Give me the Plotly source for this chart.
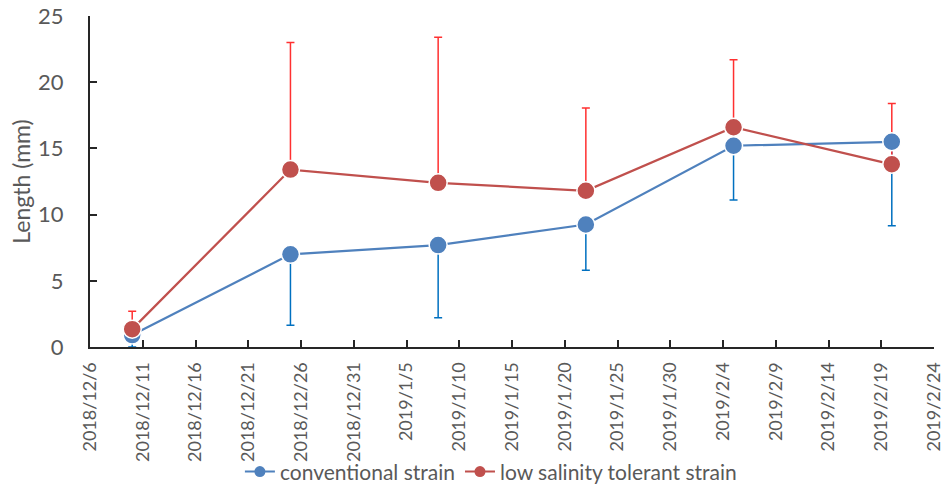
import plotly.graph_objects as go

dates = ["2018-12-10", "2018-12-25", "2019-01-08", "2019-01-22", "2019-02-05", "2019-02-20"]
conv = [0.9, 7.0, 7.7, 9.25, 15.2, 15.5]
conv_err_minus = [0.9, 5.35, 5.5, 3.45, 4.1, 6.35]
low = [1.35, 13.4, 12.4, 11.8, 16.6, 13.8]
low_err_plus = [1.35, 9.6, 11.0, 6.25, 5.1, 4.6]
zeros = [0] * len(dates)
names = ["conventional strain", "low salinity tolerant strain"]

BLUE = "#4F81BD"
RED = "#C0504D"
BLUE_ERR = "#0070C0"
RED_ERR = "#FF3030"
FONT = "Lato"
GRAY = "#595959"

fig = go.Figure()

# error bars first (below all markers)
fig.add_trace(go.Scatter(
    x=dates, y=conv, mode="markers", showlegend=False, hoverinfo="skip",
    marker=dict(size=1, opacity=0),
    error_y=dict(type="data", symmetric=False, array=zeros, arrayminus=conv_err_minus,
                 color=BLUE_ERR, thickness=1.5, width=4)))
fig.add_trace(go.Scatter(
    x=dates, y=low, mode="markers", showlegend=False, hoverinfo="skip",
    marker=dict(size=1, opacity=0),
    error_y=dict(type="data", symmetric=False, array=low_err_plus, arrayminus=zeros,
                 color=RED_ERR, thickness=1.5, width=4)))

for ys, col, nm in [(conv, BLUE, names[0]), (low, RED, names[1])]:
    fig.add_trace(go.Scatter(
        x=dates, y=ys, mode="lines+markers", name=nm, showlegend=False,
        line=dict(color=col, width=2.25),
        marker=dict(size=18, color=col, line=dict(color="white", width=1.5))))

# legend entries
for col, nm in [(BLUE, names[0]), (RED, names[1])]:
    fig.add_trace(go.Scatter(
        x=[None], y=[None], mode="lines+markers", name=nm,
        line=dict(color=col, width=2),
        marker=dict(size=11, color=col)))

fig.update_layout(
    width=944, height=488,
    margin=dict(l=90, r=10, t=16, b=141),
    paper_bgcolor="white", plot_bgcolor="white",
    font=dict(family=FONT, color=GRAY),
    legend=dict(orientation="h", x=0.475, xanchor="center",
                yref="container", y=0.033, yanchor="middle",
                font=dict(size=21, color=GRAY), traceorder="normal",
                itemwidth=30, bgcolor="rgba(0,0,0,0)"),
    xaxis=dict(
        type="date", range=["2018-12-06", "2019-02-24"],
        tick0="2018-12-06", dtick=5 * 86400000, tickformat="%Y/%-m/%-d",
        tickangle=-90, tickfont=dict(size=18, color=GRAY),
        ticks="inside", ticklen=7, tickcolor="#262626", tickwidth=1.5,
        showline=True, linecolor="#262626", linewidth=2, showgrid=False,
        zeroline=False, ticklabelstandoff=6, automargin=False,
        ticklabeloverflow="allow"),
    yaxis=dict(
        range=[0, 25], dtick=5, tickfont=dict(size=22, color=GRAY),
        ticks="inside", ticklen=7, tickcolor="#262626", tickwidth=1.5,
        showline=True, linecolor="#262626", linewidth=2, showgrid=False,
        zeroline=False, ticklabelstandoff=20, automargin=False,
        title=dict(text="Length (mm)", font=dict(size=23, color=GRAY), standoff=1)),
)

fig.write_html("out.html", config={"displayModeBar": False},
               post_script="document.body.style.margin='0px';")
